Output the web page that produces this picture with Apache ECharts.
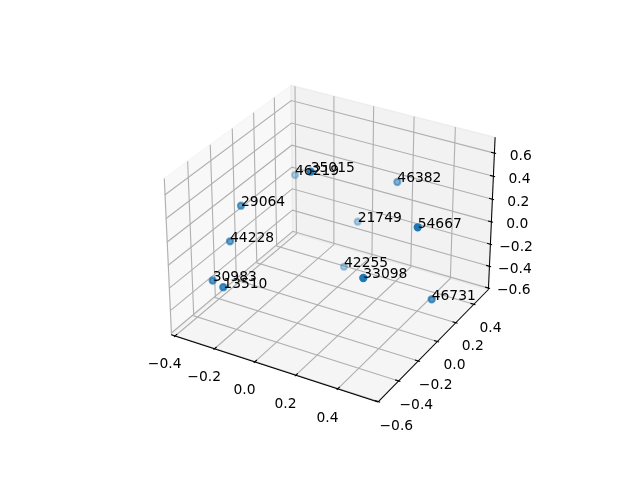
<!DOCTYPE html>
<html><head><meta charset="utf-8">
<script src="https://cdn.jsdelivr.net/npm/echarts@6/dist/echarts.min.js"></script>
<style>html,body{margin:0;padding:0;background:#fff}#c{width:640px;height:480px}</style>
</head><body><div id="c"></div>
<script>
// ---- data ----
const labels = ['35015','46219','46382','21749','54667','42255','33098','46731','29064','44228','30983','13510'];
const xVals = [0.0463, -0.3407, 0.1923, -0.0258, 0.5469, -0.0286, 0.4069, 0.5506, -0.2856, -0.2882, -0.2681, -0.1723];
const yVals = [-0.1517, 0.4437, 0.4158, 0.4628, -0.1451, 0.3264, -0.3765, 0.0135, -0.1790, -0.2821, -0.4812, -0.5570];
const zVals = [0.6932, 0.0530, 0.2673, -0.2316, 0.4713, -0.5417, 0.1535, -0.2697, 0.2619, 0.0282, -0.1476, -0.0927];
const xTicks = [-0.4, -0.2, 0.0, 0.2, 0.4];
const yTicks = [-0.6, -0.4, -0.2, 0.0, 0.2, 0.4];
const zTicks = [-0.6, -0.4, -0.2, 0.0, 0.2, 0.4, 0.6];
const xLim = [-0.420, 0.589];
const yLim = [-0.603, 0.566];
const zLim = [-0.613, 0.735];

// ---- view (matplotlib-like 3D projection) ----
const ELEV = 30, AZIM = -60, DIST = 10;
const BOX = [8/7, 8/7, 6/7];
const CX = 332.6, CY = 236.3, S = 2075;
const er = ELEV * Math.PI / 180, ar = AZIM * Math.PI / 180;
const w = [Math.cos(er) * Math.cos(ar), Math.cos(er) * Math.sin(ar), Math.sin(er)];
let u = [-w[1], w[0], 0];
const un = Math.hypot(u[0], u[1]); u = [u[0] / un, u[1] / un, 0];
const v = [w[1]*u[2]-w[2]*u[1], w[2]*u[0]-w[0]*u[2], w[0]*u[1]-w[1]*u[0]];
const dot = (a, b) => a[0]*b[0] + a[1]*b[1] + a[2]*b[2];
function proj(x, y, z) {
  const q = [((x - xLim[0]) / (xLim[1] - xLim[0]) - 0.5) * BOX[0],
             ((y - yLim[0]) / (yLim[1] - yLim[0]) - 0.5) * BOX[1],
             ((z - zLim[0]) / (zLim[1] - zLim[0]) - 0.5) * BOX[2]];
  const d = DIST - dot(w, q);
  return [dot(u, q) / d, dot(v, q) / d, -DIST / d];
}

const X0 = xLim[0], X1 = xLim[1], Y0 = yLim[0], Y1 = yLim[1], Z0 = zLim[0], Z1 = zLim[1];
const PAD = 1 + 1/24;
const DX = (X1 - X0) / PAD / 12, DY = (Y1 - Y0) / PAD / 12, DZ = (Z1 - Z0) / PAD / 12;
const LD = 1.0372;
const fmt = t => t.toFixed(1).replace('-', '\u2212');
const FONT = '13.89px "DejaVu Sans"';

function renderBg(params, api) {
  const P = p => { const r = proj(p[0], p[1], p[2]); return api.coord([r[0], r[1]]); };
  const ch = [];
  const panes = [
    {pts: [[X0,Y0,Z0],[X0,Y1,Z0],[X0,Y1,Z1],[X0,Y0,Z1]], c: 'rgba(242,242,242,0.5)'},
    {pts: [[X0,Y1,Z0],[X1,Y1,Z0],[X1,Y1,Z1],[X0,Y1,Z1]], c: 'rgba(230,230,230,0.5)'},
    {pts: [[X0,Y0,Z0],[X1,Y0,Z0],[X1,Y1,Z0],[X0,Y1,Z0]], c: 'rgba(236,236,236,0.5)'}
  ];
  panes.forEach(p => ch.push({type: 'polygon', shape: {points: p.pts.map(P)},
    style: {fill: p.c, stroke: p.c, lineWidth: 1.39}}));
  const grid = [];
  xTicks.forEach(t => grid.push([[t,Y0,Z0],[t,Y1,Z0],[t,Y1,Z1]]));
  yTicks.forEach(t => grid.push([[X0,t,Z1],[X0,t,Z0],[X1,t,Z0]]));
  zTicks.forEach(t => grid.push([[X1,Y1,t],[X0,Y1,t],[X0,Y0,t]]));
  grid.forEach(g => ch.push({type: 'polyline', shape: {points: g.map(P)},
    style: {stroke: '#b0b0b0', lineWidth: 1.11, fill: null}}));
  const axes = [[[X0,Y0,Z0],[X1,Y0,Z0]], [[X1,Y0,Z0],[X1,Y1,Z0]], [[X1,Y1,Z0],[X1,Y1,Z1]]];
  axes.forEach(a => ch.push({type: 'polyline', shape: {points: a.map(P)},
    style: {stroke: '#000', lineWidth: 1.04, fill: null}}));
  const ticks = [];
  const tlabels = [];
  xTicks.forEach(t => { ticks.push([[t, Y0 - 0.1*DY, Z0], [t, Y0 + 0.2*DY, Z0]]);
    tlabels.push([[t, Y0 - LD*DY, Z0 - LD*DZ], fmt(t)]); });
  yTicks.forEach(t => { ticks.push([[X1 + 0.1*DX, t, Z0], [X1 - 0.2*DX, t, Z0]]);
    tlabels.push([[X1 + LD*DX, t, Z0 - LD*DZ], fmt(t)]); });
  zTicks.forEach(t => { ticks.push([[X1 + 0.1*DX, Y1, t], [X1 - 0.2*DX, Y1, t]]);
    tlabels.push([[X1 + LD*DX, Y1 + LD*DY, t], fmt(t)]); });
  ticks.forEach(a => ch.push({type: 'polyline', shape: {points: a.map(P)},
    style: {stroke: '#000', lineWidth: 1.11, fill: null}}));
  tlabels.forEach(l => { const p = P(l[0]);
    ch.push({type: 'text', style: {text: l[1], x: p[0], y: p[1] + 6.4, font: FONT, fill: '#000',
      align: 'center', textAlign: 'center', verticalAlign: 'middle', textVerticalAlign: 'middle'}}); });
  return {type: 'group', children: ch};
}

// projected points + depth shading
const projected = labels.map((_, i) => proj(xVals[i], yVals[i], zVals[i]));
const depths = projected.map(p => p[2]);
const dmin = Math.min(...depths), dmax = Math.max(...depths);
const order = projected.map((_, i) => i).sort((a, b) => depths[b] - depths[a]);
const scatterData = order.map(i => ({
  value: [projected[i][0], projected[i][1]],
  itemStyle: {opacity: 1 - 0.7 * (depths[i] - dmin) / (dmax - dmin)}
}));
const labelData = labels.map((_, i) => [projected[i][0], projected[i][1], i]);

const chart = echarts.init(document.getElementById('c'), null, {renderer: 'canvas'});
chart.setOption({
  backgroundColor: '#fff',
  animation: false,
  grid: {left: 0, top: 0, right: 0, bottom: 0},
  xAxis: {type: 'value', min: -CX / S, max: (640 - CX) / S, show: false},
  yAxis: {type: 'value', min: (CY - 480) / S, max: CY / S, show: false},
  series: [
    {type: 'custom', renderItem: renderBg, data: [[0, 0]], z: 1, silent: true, clip: false},
    {type: 'scatter', data: scatterData, symbol: 'circle', symbolSize: 6.21, z: 2, silent: true,
     itemStyle: {color: '#1f77b4', borderColor: '#1f77b4', borderWidth: 2.08},
     emphasis: {disabled: true}},
    {type: 'custom', data: labelData, z: 3, silent: true, clip: false,
     renderItem: (params, api) => {
       const p = api.coord([api.value(0), api.value(1)]);
       return {type: 'text', style: {text: labels[api.value(2)], x: p[0], y: p[1] - 3.2, font: FONT,
         fill: '#000', align: 'left', textAlign: 'left', verticalAlign: 'middle', textVerticalAlign: 'middle'}};
     }}
  ]
});
</script></body></html>
